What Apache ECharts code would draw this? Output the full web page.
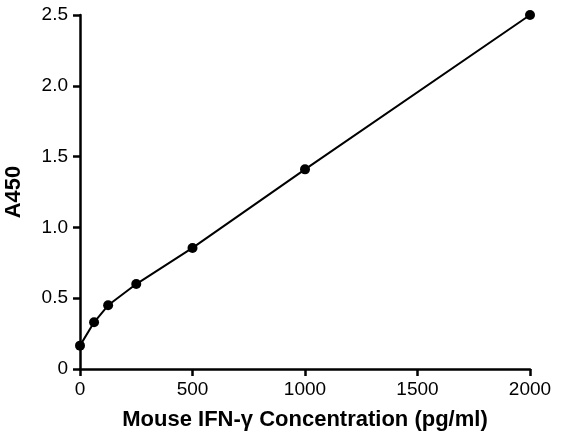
<!DOCTYPE html>
<html>
<head>
<meta charset="utf-8">
<script src="https://cdn.jsdelivr.net/npm/echarts@6/dist/echarts.min.js"></script>
<style>
html,body{margin:0;padding:0;background:#fff;}
#chart{width:569px;height:442px;}
</style>
</head>
<body>
<div id="chart"></div>
<script>
// standard curve values
var concentration = [0, 62.5, 125, 250, 500, 1000, 2000];
var absorbance = [0.165, 0.33, 0.45, 0.60, 0.855, 1.41, 2.50];
var xTicks = [0, 500, 1000, 1500, 2000];
var yTicks = [0, 0.5, 1.0, 1.5, 2.0, 2.5];

var points = [];
for (var i = 0; i < concentration.length; i++) {
	points.push([concentration[i], absorbance[i]]);
}

var myChart = echarts.init(document.getElementById("chart"));
var font = 'Liberation Sans, Arial, sans-serif';
var option = {
	animation: false,
	grid: {left: 80, right: 39, top: 15, bottom: 73, containLabel: false, outerBoundsMode: 'none'},
	xAxis: {
		type: 'value',
		min: xTicks[0],
		max: xTicks[xTicks.length - 1],
		interval: 500,
		name: 'Mouse IFN-γ Concentration (pg/ml)',
		nameLocation: 'middle',
		nameGap: 40,
		nameTextStyle: {fontFamily: font, fontSize: 22, fontWeight: 'bold', color: '#000'},
		axisLine: {lineStyle: {color: '#000', width: 2.5}},
		axisTick: {length: 7, lineStyle: {color: '#000', width: 2.5}},
		axisLabel: {
			fontFamily: font, fontSize: 19, color: '#000', margin: 11,
			formatter: function (v) { return String(v); }
		},
		splitLine: {show: false}
	},
	yAxis: {
		type: 'value',
		min: yTicks[0],
		max: yTicks[yTicks.length - 1],
		interval: 0.5,
		name: 'A450',
		nameLocation: 'middle',
		nameGap: 55,
		nameTextStyle: {fontFamily: font, fontSize: 22, fontWeight: 'bold', color: '#000'},
		axisLine: {show: true, lineStyle: {color: '#000', width: 2.5}},
		axisTick: {show: true, length: 7, lineStyle: {color: '#000', width: 2.5}},
		axisLabel: {
			fontFamily: font, fontSize: 19, color: '#000', margin: 12,
			formatter: function (v) { return v === 0 ? '0' : v.toFixed(1); }
		},
		splitLine: {show: false}
	},
	series: [{
		type: 'line',
		data: points,
		symbol: 'circle',
		symbolSize: 10,
		itemStyle: {color: '#000'},
		lineStyle: {color: '#000', width: 2}
	}]
};
myChart.setOption(option);
</script>
</body>
</html>
